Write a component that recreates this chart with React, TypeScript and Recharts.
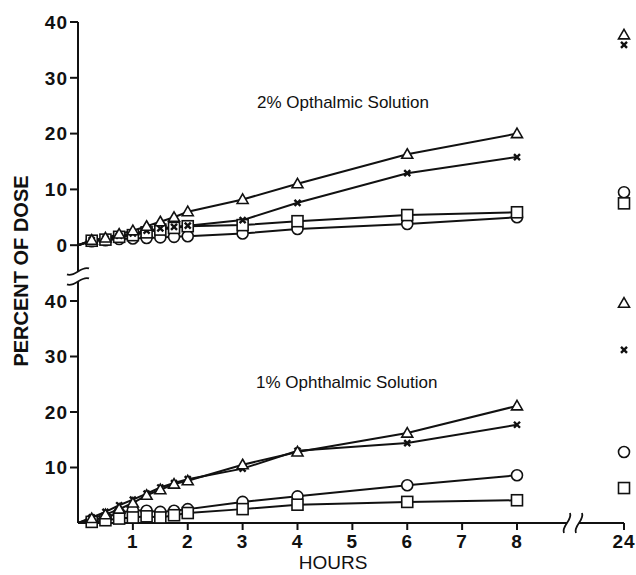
import React from 'react'
import { LineChart, Line, XAxis, YAxis, ReferenceDot } from 'recharts'

// Sampling times (hours); 24 h sits past the axis break
const HOURS = [0, 0.25, 0.5, 0.75, 1, 1.25, 1.5, 1.75, 2, 3, 4, 6, 8, 24]
const HOUR_TICKS = [1, 2, 3, 4, 5, 6, 7, 8, 24]
const TOP_TICKS = [0, 10, 20, 30, 40]
const BOTTOM_TICKS = [10, 20, 30, 40]

// 2% Opthalmic Solution (upper panel), percent of dose
const TRIANGLE_2 = [0, 0.9, 1.3, 2.0, 2.6, 3.4, 4.2, 5.0, 6.0, 8.2, 11.0, 16.3, 20.0, 37.7]
const CROSS_2 = [0, 0.9, 1.2, 1.7, 2.1, 2.6, 3.0, 3.3, 3.5, 4.5, 7.6, 12.9, 15.8, 35.9]
const SQUARE_2 = [0, 0.8, 1.0, 1.5, 1.8, 2.3, 2.8, 3.1, 3.4, 3.6, 4.3, 5.4, 5.9, 7.5]
const CIRCLE_2 = [0, 0.7, 0.9, 1.1, 1.2, 1.3, 1.4, 1.5, 1.6, 2.1, 2.9, 3.8, 5.0, 9.5]

// 1% Ophthalmic Solution (lower panel)
const TRIANGLE_1 = [0, 0.8, 1.5, 2.5, 3.6, 5.0, 6.0, 7.0, 7.6, 10.5, 12.8, 16.2, 21.1, 39.6]
const CROSS_1 = [0, 1.0, 2.0, 3.2, 4.2, 5.3, 6.4, 7.2, 7.9, 9.8, 13.0, 14.4, 17.7, 31.2]
const CIRCLE_1 = [0, 0.5, 1.0, 1.8, 2.3, 2.2, 2.0, 2.2, 2.5, 3.8, 4.8, 6.8, 8.6, 12.8]
const SQUARE_1 = [0, 0.2, 0.5, 0.8, 1.0, 1.2, 1.0, 1.4, 1.8, 2.5, 3.3, 3.8, 4.1, 6.3]

// position on the broken x axis
const FAR_POS = 9.95
const GAP_POS = 9
const toPos = (h: number) => (h > 8 ? FAR_POS : h)

const INK = '#111'
const FONT = "'Liberation Sans', Arial, sans-serif"
const TICK = { fill: INK, fontSize: 19, fontWeight: 700, fontFamily: FONT, letterSpacing: 1 }
const W = 636
const MARGIN_L = 8
const AXIS_W = 70
const MARGIN_R = 12

function buildRows(tri: number[], cross: number[], sq: number[], circ: number[]) {
  const rows: any[] = HOURS.map((h, i) => ({
    pos: toPos(h),
    hours: h,
    tri: tri[i],
    cross: cross[i],
    sq: sq[i],
    circ: circ[i],
  }))
  // null row so the 8 h point is not joined to the 24 h point
  rows.splice(rows.length - 1, 0, { pos: GAP_POS, hours: null, tri: null, cross: null, sq: null, circ: null })
  return rows
}

const TOP_ROWS = buildRows(TRIANGLE_2, CROSS_2, SQUARE_2, CIRCLE_2)
const BOTTOM_ROWS = buildRows(TRIANGLE_1, CROSS_1, SQUARE_1, CIRCLE_1)

function makeDot(kind: string) {
  return (p: any) => {
    const { cx, cy, index, payload } = p
    if (cx == null || cy == null || !payload || !payload.hours) return <g key={index} />
    const s = { fill: '#fff', stroke: INK, strokeWidth: 1.6 }
    if (kind === 'circ') return <circle key={index} cx={cx} cy={cy} r={5.5} {...s} />
    if (kind === 'sq') return <rect key={index} x={cx - 5.5} y={cy - 5.5} width={11} height={11} {...s} />
    if (kind === 'tri')
      return <path key={index} d={`M${cx},${cy - 5.5}L${cx + 5.5},${cy + 4}L${cx - 5.5},${cy + 4}Z`} {...s} />
    return (
      <path
        key={index}
        d={`M${cx - 3},${cy - 3}L${cx + 3},${cy + 3}M${cx + 3},${cy - 3}L${cx - 3},${cy + 3}`}
        stroke={INK}
        strokeWidth={2.4}
      />
    )
  }
}

// break marks across the vertical axis
const YBreak = (p: any) => {
  const { cx, cy } = p
  if (cx == null || cy == null) return <g />
  const mark = (d: number) =>
    `M${cx - 11},${cy + d + 3}C${cx - 3},${cy + d + 6} ${cx + 3},${cy + d - 6} ${cx + 11},${cy + d - 3}`
  return (
    <g>
      <rect x={cx - 4} y={cy - 5} width={8} height={10} fill="#fff" />
      <path d={mark(-5)} fill="none" stroke={INK} strokeWidth={1.8} />
      <path d={mark(5)} fill="none" stroke={INK} strokeWidth={1.8} />
    </g>
  )
}

// break marks across the horizontal axis
const XBreak = (p: any) => {
  const { cx, cy } = p
  if (cx == null || cy == null) return <g />
  const mark = (d: number) =>
    `M${cx + d - 3},${cy + 10}C${cx + d - 6},${cy + 3} ${cx + d + 6},${cy - 3} ${cx + d + 3},${cy - 10}`
  return (
    <g>
      <rect x={cx - 6} y={cy - 4} width={12} height={8} fill="#fff" />
      <path d={mark(-6)} fill="none" stroke={INK} strokeWidth={1.8} />
      <path d={mark(6)} fill="none" stroke={INK} strokeWidth={1.8} />
    </g>
  )
}

function Series() {
  return [
    <Line key="circ" dataKey="circ" type="linear" stroke={INK} strokeWidth={2} dot={makeDot('circ')} isAnimationActive={false} />,
    <Line key="sq" dataKey="sq" type="linear" stroke={INK} strokeWidth={2} dot={makeDot('sq')} isAnimationActive={false} />,
    <Line key="cross" dataKey="cross" type="linear" stroke={INK} strokeWidth={2} dot={makeDot('cross')} isAnimationActive={false} />,
    <Line key="tri" dataKey="tri" type="linear" stroke={INK} strokeWidth={2} dot={makeDot('tri')} isAnimationActive={false} />,
  ]
}

const xAxisProps = {
  dataKey: 'pos',
  type: 'number' as const,
  domain: [0, FAR_POS],
  ticks: HOUR_TICKS.map(toPos),
  tickFormatter: (v: number) => (v === FAR_POS ? '24' : String(v)),
}

const textStyle: React.CSSProperties = {
  position: 'absolute',
  whiteSpace: 'nowrap',
  fontFamily: FONT,
  color: INK,
}

export default function App() {
  return (
    <div style={{ position: 'absolute', left: 0, top: 0, width: W, height: 575, background: '#fff' }}>
      {/* lower panel: 1% solution, carries the hours axis */}
      <div style={{ position: 'absolute', left: 0, top: 0 }}>
        <LineChart width={W} height={575} data={BOTTOM_ROWS} margin={{ top: 301, right: MARGIN_R, bottom: 0, left: MARGIN_L }}>
          <XAxis
            {...xAxisProps}
            height={52}
            tick={TICK}
            tickSize={7}
            tickMargin={5}
            axisLine={{ stroke: INK, strokeWidth: 2 }}
            tickLine={{ stroke: INK, strokeWidth: 2 }}
          />
          <YAxis
            type="number"
            domain={[0, 40]}
            ticks={BOTTOM_TICKS}
            width={AXIS_W}
            tick={TICK}
            tickSize={8}
            axisLine={{ stroke: INK, strokeWidth: 2 }}
            tickLine={{ stroke: INK, strokeWidth: 2 }}
          />
          {Series()}
          <ReferenceDot x={GAP_POS + 0.02} y={0} r={0} shape={XBreak} ifOverflow="visible" />
        </LineChart>
      </div>
      {/* upper panel: 2% solution */}
      <div style={{ position: 'absolute', left: 0, top: 0 }}>
        <LineChart width={W} height={301} data={TOP_ROWS} margin={{ top: 22, right: MARGIN_R, bottom: 0, left: MARGIN_L }}>
          <XAxis {...xAxisProps} hide />
          <YAxis
            type="number"
            domain={[-10, 40]}
            ticks={TOP_TICKS}
            width={AXIS_W}
            tick={TICK}
            tickSize={8}
            axisLine={{ stroke: INK, strokeWidth: 2 }}
            tickLine={{ stroke: INK, strokeWidth: 2 }}
          />
          {Series()}
          <ReferenceDot x={0} y={-5.6} r={0} shape={YBreak} ifOverflow="visible" />
        </LineChart>
      </div>
      <div style={{ ...textStyle, left: 257, top: 93, fontSize: 17, lineHeight: '20px' }}>2% Opthalmic Solution</div>
      <div style={{ ...textStyle, left: 256, top: 373, fontSize: 17, lineHeight: '20px' }}>1% Ophthalmic Solution</div>
      <div
        style={{
          ...textStyle,
          left: 21,
          top: 271,
          fontSize: 20,
          fontWeight: 700,
          lineHeight: '22px',
          transform: 'translate(-50%, -50%) rotate(-90deg)',
        }}
      >
        PERCENT OF DOSE
      </div>
      <div style={{ ...textStyle, left: 333, top: 552, fontSize: 19, lineHeight: '21px', transform: 'translateX(-50%)' }}>
        HOURS
      </div>
    </div>
  )
}
